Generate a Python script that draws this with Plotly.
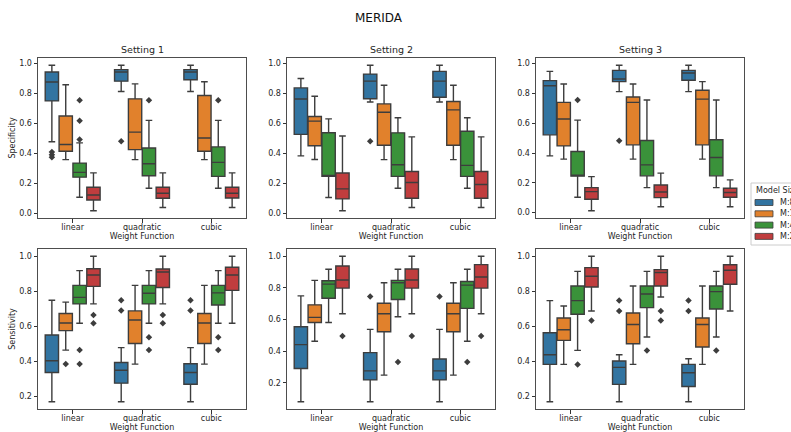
import plotly.graph_objects as go

# ---------------- data ----------------
MODELS = ["M:8B", "M:13B", "M:47B", "M:200B"]
WEIGHTS = ["linear", "quadratic", "cubic"]
SETTINGS = ["Setting 1", "Setting 2", "Setting 3"]
COLORS = ["#3274a1", "#e1812c", "#3a923a", "#c03d3e"]

# box stats per weight function: one (lower whisker, q1, median, q3, upper whisker) per model
spec_s1 = {
    "linear":    [(0.478, 0.751, 0.877, 0.944, 0.989), (0.359, 0.415, 0.460, 0.650, 0.859),
                  (0.108, 0.242, 0.274, 0.336, 0.471), (0.018, 0.090, 0.123, 0.175, 0.271)],
    "quadratic": [(0.814, 0.883, 0.944, 0.960, 0.989), (0.359, 0.426, 0.543, 0.765, 0.865),
                  (0.168, 0.251, 0.332, 0.437, 0.621), (0.040, 0.101, 0.135, 0.175, 0.271)],
    "cubic":     [(0.814, 0.892, 0.944, 0.960, 0.989), (0.359, 0.415, 0.504, 0.787, 0.879),
                  (0.168, 0.247, 0.341, 0.444, 0.621), (0.040, 0.103, 0.135, 0.175, 0.271)],
}
spec_s1_out = [(0, "linear", 0.410), (0, "linear", 0.392), (0, "linear", 0.375),
               (2, "linear", 0.756), (2, "linear", 0.619), (2, "linear", 0.493),
               (0, "quadratic", 0.482), (2, "quadratic", 0.756), (2, "cubic", 0.756)]

spec_s2 = {
    "linear":    [(0.384, 0.528, 0.764, 0.838, 0.901), (0.360, 0.452, 0.616, 0.647, 0.782),
                  (0.106, 0.247, 0.249, 0.539, 0.631), (0.018, 0.097, 0.164, 0.270, 0.517)],
    "quadratic": [(0.744, 0.766, 0.883, 0.930, 0.989), (0.359, 0.455, 0.675, 0.731, 0.856),
                  (0.168, 0.247, 0.325, 0.538, 0.639), (0.040, 0.101, 0.206, 0.280, 0.511)],
    "cubic":     [(0.744, 0.776, 0.883, 0.948, 0.989), (0.359, 0.455, 0.691, 0.747, 0.856),
                  (0.168, 0.247, 0.321, 0.549, 0.639), (0.040, 0.101, 0.193, 0.280, 0.511)],
}
spec_s2_out = [(0, "quadratic", 0.481)]

spec_s3 = {
    "linear":    [(0.381, 0.522, 0.852, 0.886, 0.948), (0.359, 0.448, 0.628, 0.740, 0.863),
                  (0.103, 0.245, 0.250, 0.410, 0.621), (0.013, 0.090, 0.141, 0.168, 0.242)],
    "quadratic": [(0.812, 0.879, 0.897, 0.955, 0.989), (0.359, 0.455, 0.740, 0.776, 0.863),
                  (0.168, 0.247, 0.321, 0.484, 0.756), (0.040, 0.101, 0.139, 0.186, 0.265)],
    "cubic":     [(0.812, 0.888, 0.937, 0.955, 0.989), (0.359, 0.455, 0.762, 0.821, 0.879),
                  (0.168, 0.247, 0.370, 0.489, 0.756), (0.040, 0.103, 0.135, 0.164, 0.220)],
}
spec_s3_out = [(2, "linear", 0.756), (0, "quadratic", 0.482)]

sens_s1 = {
    "linear":    [(0.169, 0.336, 0.403, 0.550, 0.749), (0.464, 0.575, 0.619, 0.673, 0.738),
                  (0.617, 0.728, 0.765, 0.834, 0.918), (0.728, 0.828, 0.893, 0.929, 1.000)],
    "quadratic": [(0.169, 0.275, 0.349, 0.393, 0.478), (0.384, 0.502, 0.636, 0.688, 0.834),
                  (0.617, 0.728, 0.789, 0.834, 0.918), (0.728, 0.822, 0.910, 0.927, 1.000)],
    "cubic":     [(0.169, 0.269, 0.336, 0.386, 0.478), (0.384, 0.502, 0.619, 0.673, 0.834),
                  (0.617, 0.722, 0.791, 0.834, 0.918), (0.617, 0.805, 0.893, 0.937, 1.000)],
}
sens_s1_out = [(1, "linear", 0.384), (2, "linear", 0.464), (2, "linear", 0.384),
               (3, "linear", 0.665), (3, "linear", 0.617),
               (0, "quadratic", 0.749), (0, "quadratic", 0.690), (2, "quadratic", 0.537),
               (2, "quadratic", 0.464), (3, "quadratic", 0.665), (3, "quadratic", 0.617),
               (0, "cubic", 0.749), (0, "cubic", 0.690), (2, "cubic", 0.537), (2, "cubic", 0.464)]

sens_s2 = {
    "linear":    [(0.081, 0.291, 0.442, 0.555, 0.750), (0.463, 0.582, 0.614, 0.693, 0.848),
                  (0.582, 0.735, 0.824, 0.845, 0.918), (0.637, 0.799, 0.850, 0.939, 1.000)],
    "quadratic": [(0.081, 0.219, 0.276, 0.391, 0.538), (0.249, 0.523, 0.637, 0.703, 0.833),
                  (0.618, 0.727, 0.833, 0.848, 0.918), (0.637, 0.799, 0.850, 0.920, 1.000)],
    "cubic":     [(0.081, 0.219, 0.276, 0.351, 0.538), (0.249, 0.523, 0.637, 0.703, 0.833),
                  (0.463, 0.671, 0.818, 0.841, 0.918), (0.637, 0.799, 0.869, 0.947, 1.000)],
}
sens_s2_out = [(3, "linear", 0.497), (0, "quadratic", 0.746), (2, "quadratic", 0.332),
               (3, "quadratic", 0.497), (0, "cubic", 0.746), (2, "cubic", 0.332),
               (3, "cubic", 0.497)]

sens_s3 = {
    "linear":    [(0.170, 0.383, 0.438, 0.564, 0.747), (0.383, 0.520, 0.581, 0.648, 0.716),
                  (0.463, 0.669, 0.747, 0.830, 0.914), (0.688, 0.825, 0.886, 0.935, 1.000)],
    "quadratic": [(0.170, 0.269, 0.366, 0.402, 0.438), (0.383, 0.501, 0.611, 0.676, 0.830),
                  (0.539, 0.707, 0.785, 0.830, 0.914), (0.768, 0.830, 0.907, 0.924, 1.000)],
    "cubic":     [(0.170, 0.257, 0.335, 0.383, 0.415), (0.383, 0.482, 0.611, 0.648, 0.830),
                  (0.539, 0.699, 0.798, 0.830, 0.914), (0.688, 0.840, 0.920, 0.952, 1.000)],
}
sens_s3_out = [(2, "linear", 0.383), (3, "linear", 0.634), (0, "quadratic", 0.747),
               (0, "quadratic", 0.688), (2, "quadratic", 0.463), (3, "quadratic", 0.688),
               (3, "quadratic", 0.634), (0, "cubic", 0.747), (0, "cubic", 0.688),
               (2, "cubic", 0.463)]

PANELS = [
    (spec_s1, spec_s1_out), (spec_s2, spec_s2_out), (spec_s3, spec_s3_out),
    (sens_s1, sens_s1_out), (sens_s2, sens_s2_out), (sens_s3, sens_s3_out),
]

# ---------------- layout ----------------
W, H = 791, 432
XPIX = [(38, 246), (287, 495), (536, 744)]
YPIX = [(58, 218), (249, 409)]
FONT = "DejaVu Sans"
TXT = "#262626"
EDGE = "#3d3d3d"
BOXW = 0.2
OFFS = [(j - 1.5) * BOXW for j in range(len(MODELS))]

fig = go.Figure()
layout = dict(
    width=W, height=H,
    margin=dict(l=0, r=0, t=0, b=0, autoexpand=False),
    paper_bgcolor="white", plot_bgcolor="white",
    font=dict(family=FONT, size=8, color=TXT),
    showlegend=False,
    annotations=[],
    shapes=[],
)

for p, (stats, outs) in enumerate(PANELS):
    r, c = divmod(p, 3)
    n = p + 1
    xa = "x" if n == 1 else f"x{n}"
    ya = "y" if n == 1 else f"y{n}"
    for j, m in enumerate(MODELS):
        xs = [i + OFFS[j] for i in range(len(WEIGHTS))]
        st = [stats[w][j] for w in WEIGHTS]
        fig.add_trace(go.Box(
            x=xs,
            lowerfence=[s[0] for s in st], q1=[s[1] for s in st], median=[s[2] for s in st],
            q3=[s[3] for s in st], upperfence=[s[4] for s in st],
            width=BOXW * 0.96, whiskerwidth=0.5, boxpoints=False,
            fillcolor=COLORS[j], line=dict(color=EDGE, width=1.4),
            name=m, legendgroup=m,
            xaxis=xa, yaxis=ya, hoverinfo="skip",
        ))
    ox = [WEIGHTS.index(w) + OFFS[j] for j, w, v in outs]
    oy = [v for j, w, v in outs]
    fig.add_trace(go.Scatter(
        x=ox, y=oy, mode="markers",
        marker=dict(symbol="diamond", size=5, color=EDGE),
        xaxis=xa, yaxis=ya, hoverinfo="skip",
    ))

    allv = [s[0] for w in WEIGHTS for s in stats[w]] + [s[4] for w in WEIGHTS for s in stats[w]] + oy
    lo, hi = min(allv), max(allv)
    pad = (hi - lo) * 0.05

    x0, x1 = XPIX[c]
    y0, y1 = YPIX[r]
    axcommon = dict(
        showline=True, mirror=True, linecolor="#4d4d4d", linewidth=1,
        ticks="outside", ticklen=3.5, tickwidth=0.8, tickcolor="#333333",
        showgrid=False, zeroline=False,
        tickfont=dict(size=8, family=FONT, color=TXT),
    )
    layout["xaxis" if n == 1 else f"xaxis{n}"] = dict(
        axcommon, domain=[x0 / W, x1 / W], anchor=ya,
        range=[-0.5, len(WEIGHTS) - 0.5],
        tickvals=list(range(len(WEIGHTS))), ticktext=WEIGHTS,
        ticklabelstandoff=-2,
        title=dict(text="Weight Function", font=dict(size=8, family=FONT, color=TXT), standoff=1),
    )
    layout["yaxis" if n == 1 else f"yaxis{n}"] = dict(
        axcommon, domain=[1 - y1 / H, 1 - y0 / H], anchor=xa,
        range=[lo - pad, hi + pad], dtick=0.2, tick0=0, tickformat=".1f",
        title=dict(text=("Specificity" if r == 0 else "Sensitivity") if c == 0 else "",
                   font=dict(size=8, family=FONT, color=TXT), standoff=2),
    )
    if r == 0:
        layout["annotations"].append(dict(
            text=SETTINGS[c], xref="paper", yref="paper",
            x=(x0 + x1) / 2 / W, y=1 - y0 / H, xanchor="center", yanchor="bottom",
            yshift=1, showarrow=False, font=dict(size=9.5, family=FONT, color=TXT),
        ))

layout["annotations"].append(dict(
    text="MERIDA", xref="paper", yref="paper", x=379 / W, y=1 - 18 / H,
    xanchor="center", yanchor="middle", showarrow=False,
    font=dict(size=12, family=FONT, color="#111111"),
))

# ---- legend (matplotlib-style, partly cut at the right edge) ----
LX, LT, LB = 751, 183, 245
layout["shapes"].append(dict(
    type="rect", xref="paper", yref="paper",
    x0=LX / W, x1=(W + 10) / W, y0=1 - LB / H, y1=1 - LT / H,
    line=dict(color="#cccccc", width=1), fillcolor="white", layer="above",
))
layout["annotations"].append(dict(
    text="Model Size", xref="paper", yref="paper", x=(LX + 3) / W, y=1 - 190.5 / H,
    xanchor="left", yanchor="middle", showarrow=False,
    font=dict(size=8, family=FONT, color=TXT),
))
for j, m in enumerate(MODELS):
    cy = 202.5 + j * 11.3
    layout["shapes"].append(dict(
        type="rect", xref="paper", yref="paper",
        x0=755 / W, x1=773 / W, y0=1 - (cy + 3) / H, y1=1 - (cy - 3) / H,
        line=dict(color=EDGE, width=0.8), fillcolor=COLORS[j], layer="above",
    ))
    layout["annotations"].append(dict(
        text=m, xref="paper", yref="paper", x=778 / W, y=1 - cy / H,
        xanchor="left", yanchor="middle", showarrow=False,
        font=dict(size=8, family=FONT, color=TXT),
    ))

fig.update_layout(**layout)
fig.write_html(
    "out.html",
    config={"displayModeBar": False},
    post_script="document.body.style.margin='0';document.body.style.overflow='hidden';",
)
